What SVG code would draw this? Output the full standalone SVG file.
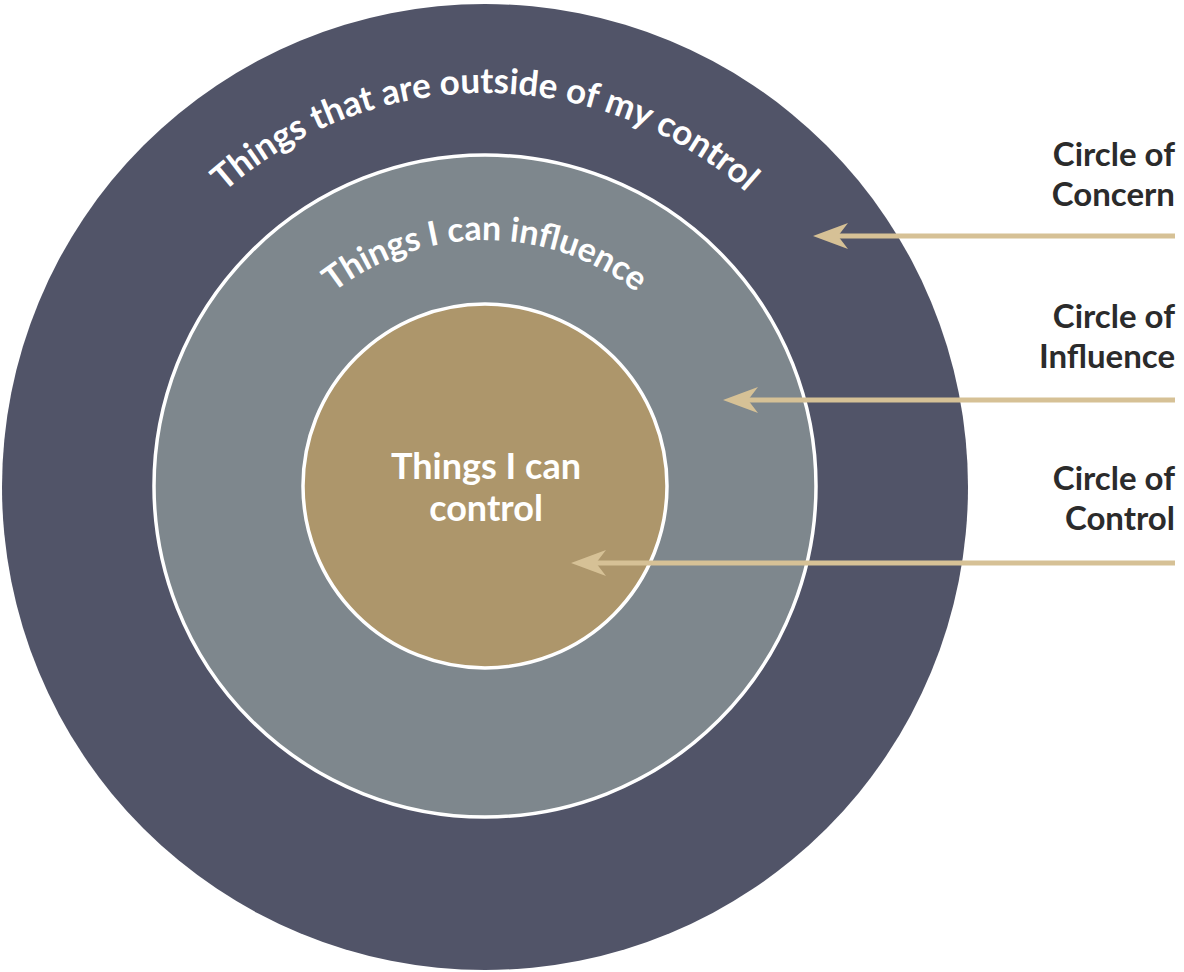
<svg xmlns="http://www.w3.org/2000/svg" xmlns:xlink="http://www.w3.org/1999/xlink" width="1184" height="972" viewBox="0 0 1184 972">
<style>
.ring-text{font-family:Lato,"Open Sans","Liberation Sans",sans-serif;font-weight:700;fill:#ffffff}
.label{font-family:Lato,"Open Sans","Liberation Sans",sans-serif;font-weight:700;font-size:33px;fill:#2b2b2b;text-anchor:end}
.conn{stroke:#D6C196;stroke-width:5;fill:none}
</style>
<defs>
<marker id="ah" markerUnits="userSpaceOnUse" markerWidth="40" markerHeight="28" refX="26" refY="14" orient="auto" viewBox="0 0 40 28">
<path d="M38,14 L3,1 L13,14 L3,27 Z" fill="#D6C196"/>
</marker>
<path id="arcOuter" d="M92,486 A393,393 0 0 1 878,486"/>
<path id="arcMid" d="M239,486 A246,246 0 0 1 731,486"/>
</defs>
<rect width="1184" height="972" fill="#ffffff"/>
<g id="concern">
<circle cx="485" cy="487" r="483" fill="#515468"/>
<text class="ring-text" font-size="35"><textPath xlink:href="#arcOuter" href="#arcOuter" startOffset="50%" text-anchor="middle">Things that are outside of my control</textPath></text>
</g>
<g id="influence">
<circle cx="485" cy="486" r="331" fill="#7E878D" stroke="#ffffff" stroke-width="3.5"/>
<text class="ring-text" font-size="34"><textPath xlink:href="#arcMid" href="#arcMid" startOffset="50%" text-anchor="middle">Things I can influence</textPath></text>
</g>
<g id="control">
<circle cx="485" cy="486" r="182" fill="#AD966B" stroke="#ffffff" stroke-width="3.5"/>
<text class="ring-text" font-size="36" text-anchor="middle"><tspan x="486" y="479">Things I can</tspan><tspan x="486" y="521">control</tspan></text>
</g>
<g id="label-concern"><text class="label"><tspan x="1175" y="166">Circle of</tspan><tspan x="1175" y="206">Concern</tspan></text></g>
<g id="label-influence"><text class="label"><tspan x="1175" y="328">Circle of</tspan><tspan x="1175" y="368">Influence</tspan></text></g>
<g id="label-control"><text class="label"><tspan x="1175" y="490">Circle of</tspan><tspan x="1175" y="530">Control</tspan></text></g>
<g id="connectors">
<line class="conn" x1="1175" y1="236" x2="825" y2="236" marker-end="url(#ah)"/>
<line class="conn" x1="1175" y1="400" x2="735" y2="400" marker-end="url(#ah)"/>
<line class="conn" x1="1175" y1="563" x2="583" y2="563" marker-end="url(#ah)"/>
</g>
</svg>
